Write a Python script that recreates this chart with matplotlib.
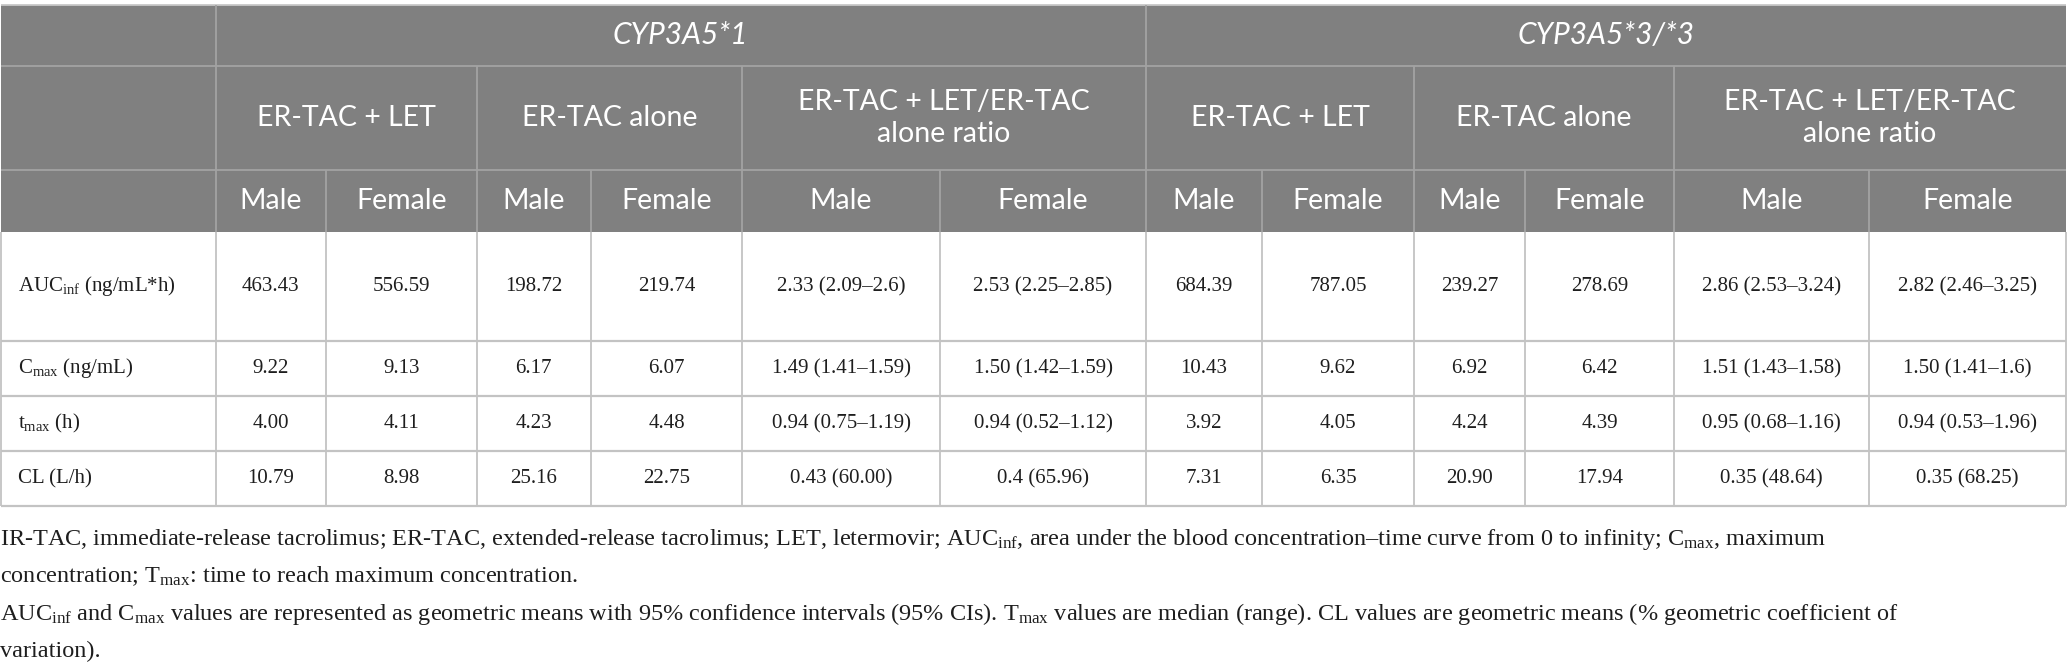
import matplotlib.pyplot as plt
from matplotlib.patches import Rectangle

plt.rcParams["mathtext.fontset"] = "custom"
plt.rcParams["mathtext.rm"] = "Liberation Serif"
plt.rcParams["mathtext.it"] = "Liberation Serif:italic"

# table content
genotypes = ["CYP3A5*1", "CYP3A5*3/*3"]
regimens = ["ER-TAC + LET", "ER-TAC alone", "ER-TAC + LET/ER-TAC\nalone ratio"]
sexes = ["Male", "Female"]
parameters = [
    r"AUC$_{\mathrm{inf}}$ (ng/mL*h)",
    r"C$_{\mathrm{max}}$ (ng/mL)",
    r"t$_{\mathrm{max}}$ (h)",
    "CL (L/h)",
]
auc_inf = ["463.43", "556.59", "198.72", "219.74", "2.33 (2.09–2.6)", "2.53 (2.25–2.85)",
           "684.39", "787.05", "239.27", "278.69", "2.86 (2.53–3.24)", "2.82 (2.46–3.25)"]
c_max = ["9.22", "9.13", "6.17", "6.07", "1.49 (1.41–1.59)", "1.50 (1.42–1.59)",
         "10.43", "9.62", "6.92", "6.42", "1.51 (1.43–1.58)", "1.50 (1.41–1.6)"]
t_max = ["4.00", "4.11", "4.23", "4.48", "0.94 (0.75–1.19)", "0.94 (0.52–1.12)",
         "3.92", "4.05", "4.24", "4.39", "0.95 (0.68–1.16)", "0.94 (0.53–1.96)"]
cl = ["10.79", "8.98", "25.16", "22.75", "0.43 (60.00)", "0.4 (65.96)",
      "7.31", "6.35", "20.90", "17.94", "0.35 (48.64)", "0.35 (68.25)"]
footnotes = [
    r"IR-TAC, immediate-release tacrolimus; ER-TAC, extended-release tacrolimus; LET, letermovir; "
    r"AUC$_{\mathrm{inf}}$, area under the blood concentration–time curve from 0 to infinity; "
    r"C$_{\mathrm{max}}$, maximum",
    r"concentration; T$_{\mathrm{max}}$: time to reach maximum concentration.",
    r"AUC$_{\mathrm{inf}}$ and C$_{\mathrm{max}}$ values are represented as geometric means with 95% "
    r"confidence intervals (95% CIs). T$_{\mathrm{max}}$ values are median (range). CL values are "
    r"geometric means (% geometric coefficient of",
    "variation).",
]

# layout (pixels)
W, H = 2067, 671
col_edges = [0.5, 215.5, 326, 476.5, 591, 742, 940, 1146, 1262, 1414, 1525, 1674, 1869, 2066]
row_edges = [4.5, 66, 170, 232, 341, 396, 451, 506]
foot_baselines = [545, 582.5, 620, 657]
header_bg = "#808080"
header_line = "#a3a3a3"
body_line = "#c3c3c3"
head_font = "Lato"
body_font = "Liberation Serif"
text_dark = "#1e1e1e"

fig = plt.figure(figsize=(W / 100, H / 100), dpi=100)
ax = fig.add_axes([0, 0, 1, 1])
ax.set_xlim(0, W)
ax.set_ylim(H, 0)
ax.axis("off")

x0, x1 = col_edges[0], col_edges[-1]
ax.add_patch(Rectangle((x0, row_edges[0]), x1 - x0, row_edges[3] - row_edges[0],
                       facecolor=header_bg, edgecolor="none", zorder=1))

lw = 1.3
# header lines
ax.hlines(row_edges[0], x0, x1, color="#c8c8c8", lw=lw, zorder=2)
for y in row_edges[1:3]:
    ax.hlines(y, x0, x1, color=header_line, lw=lw, zorder=2)
# row 1 verticals: stub + genotype split
for i in [1, 7]:
    ax.vlines(col_edges[i], row_edges[0], row_edges[1], color=header_line, lw=lw, zorder=2)
# row 2 verticals: regimen split
for i in [1, 3, 5, 7, 9, 11]:
    ax.vlines(col_edges[i], row_edges[1], row_edges[2], color=header_line, lw=lw, zorder=2)
# row 3 verticals: every column
for x in col_edges[1:-1]:
    ax.vlines(x, row_edges[2], row_edges[3], color=header_line, lw=lw, zorder=2)

# body lines
for y in row_edges[4:]:
    ax.hlines(y, x0, x1, color=body_line, lw=lw + 0.3, zorder=2)
for x in col_edges:
    ax.vlines(x, row_edges[3], row_edges[-1], color=body_line, lw=lw, zorder=2)

# header texts
for g, name in enumerate(genotypes):
    xa, xb = col_edges[1 + 6 * g], col_edges[7 + 6 * g]
    ax.text((xa + xb) / 2, (row_edges[0] + row_edges[1]) / 2, name, color="white",
            fontsize=21.5, family=head_font, style="italic", ha="center", va="center", zorder=3)
    for r, reg in enumerate(regimens):
        xa, xb = col_edges[1 + 6 * g + 2 * r], col_edges[3 + 6 * g + 2 * r]
        ax.text((xa + xb) / 2, (row_edges[1] + row_edges[2]) / 2, reg, color="white",
                fontsize=20.5, family=head_font, ha="center", va="center",
                linespacing=1.3, zorder=3)
        for s, sex in enumerate(sexes):
            c = 1 + 6 * g + 2 * r + s
            ax.text((col_edges[c] + col_edges[c + 1]) / 2, (row_edges[2] + row_edges[3]) / 2,
                    sex, color="white", fontsize=20.5, family=head_font,
                    ha="center", va="center", zorder=3)

# body texts
rows = [auc_inf, c_max, t_max, cl]
for r, (label, vals) in enumerate(zip(parameters, rows)):
    yc = (row_edges[3 + r] + row_edges[4 + r]) / 2
    ax.text(18, yc, label, fontsize=15, family=body_font, color=text_dark,
            ha="left", va="center", zorder=3)
    for c, v in enumerate(vals):
        ax.text((col_edges[c + 1] + col_edges[c + 2]) / 2, yc, v, fontsize=15,
                family=body_font, color=text_dark, ha="center", va="center", zorder=3)

# footnotes
for y, line in zip(foot_baselines, footnotes):
    ax.text(0, y, line, fontsize=17.5, family=body_font, color=text_dark,
            ha="left", va="baseline", zorder=3)

fig.savefig("out.png", dpi=100, facecolor="white")
